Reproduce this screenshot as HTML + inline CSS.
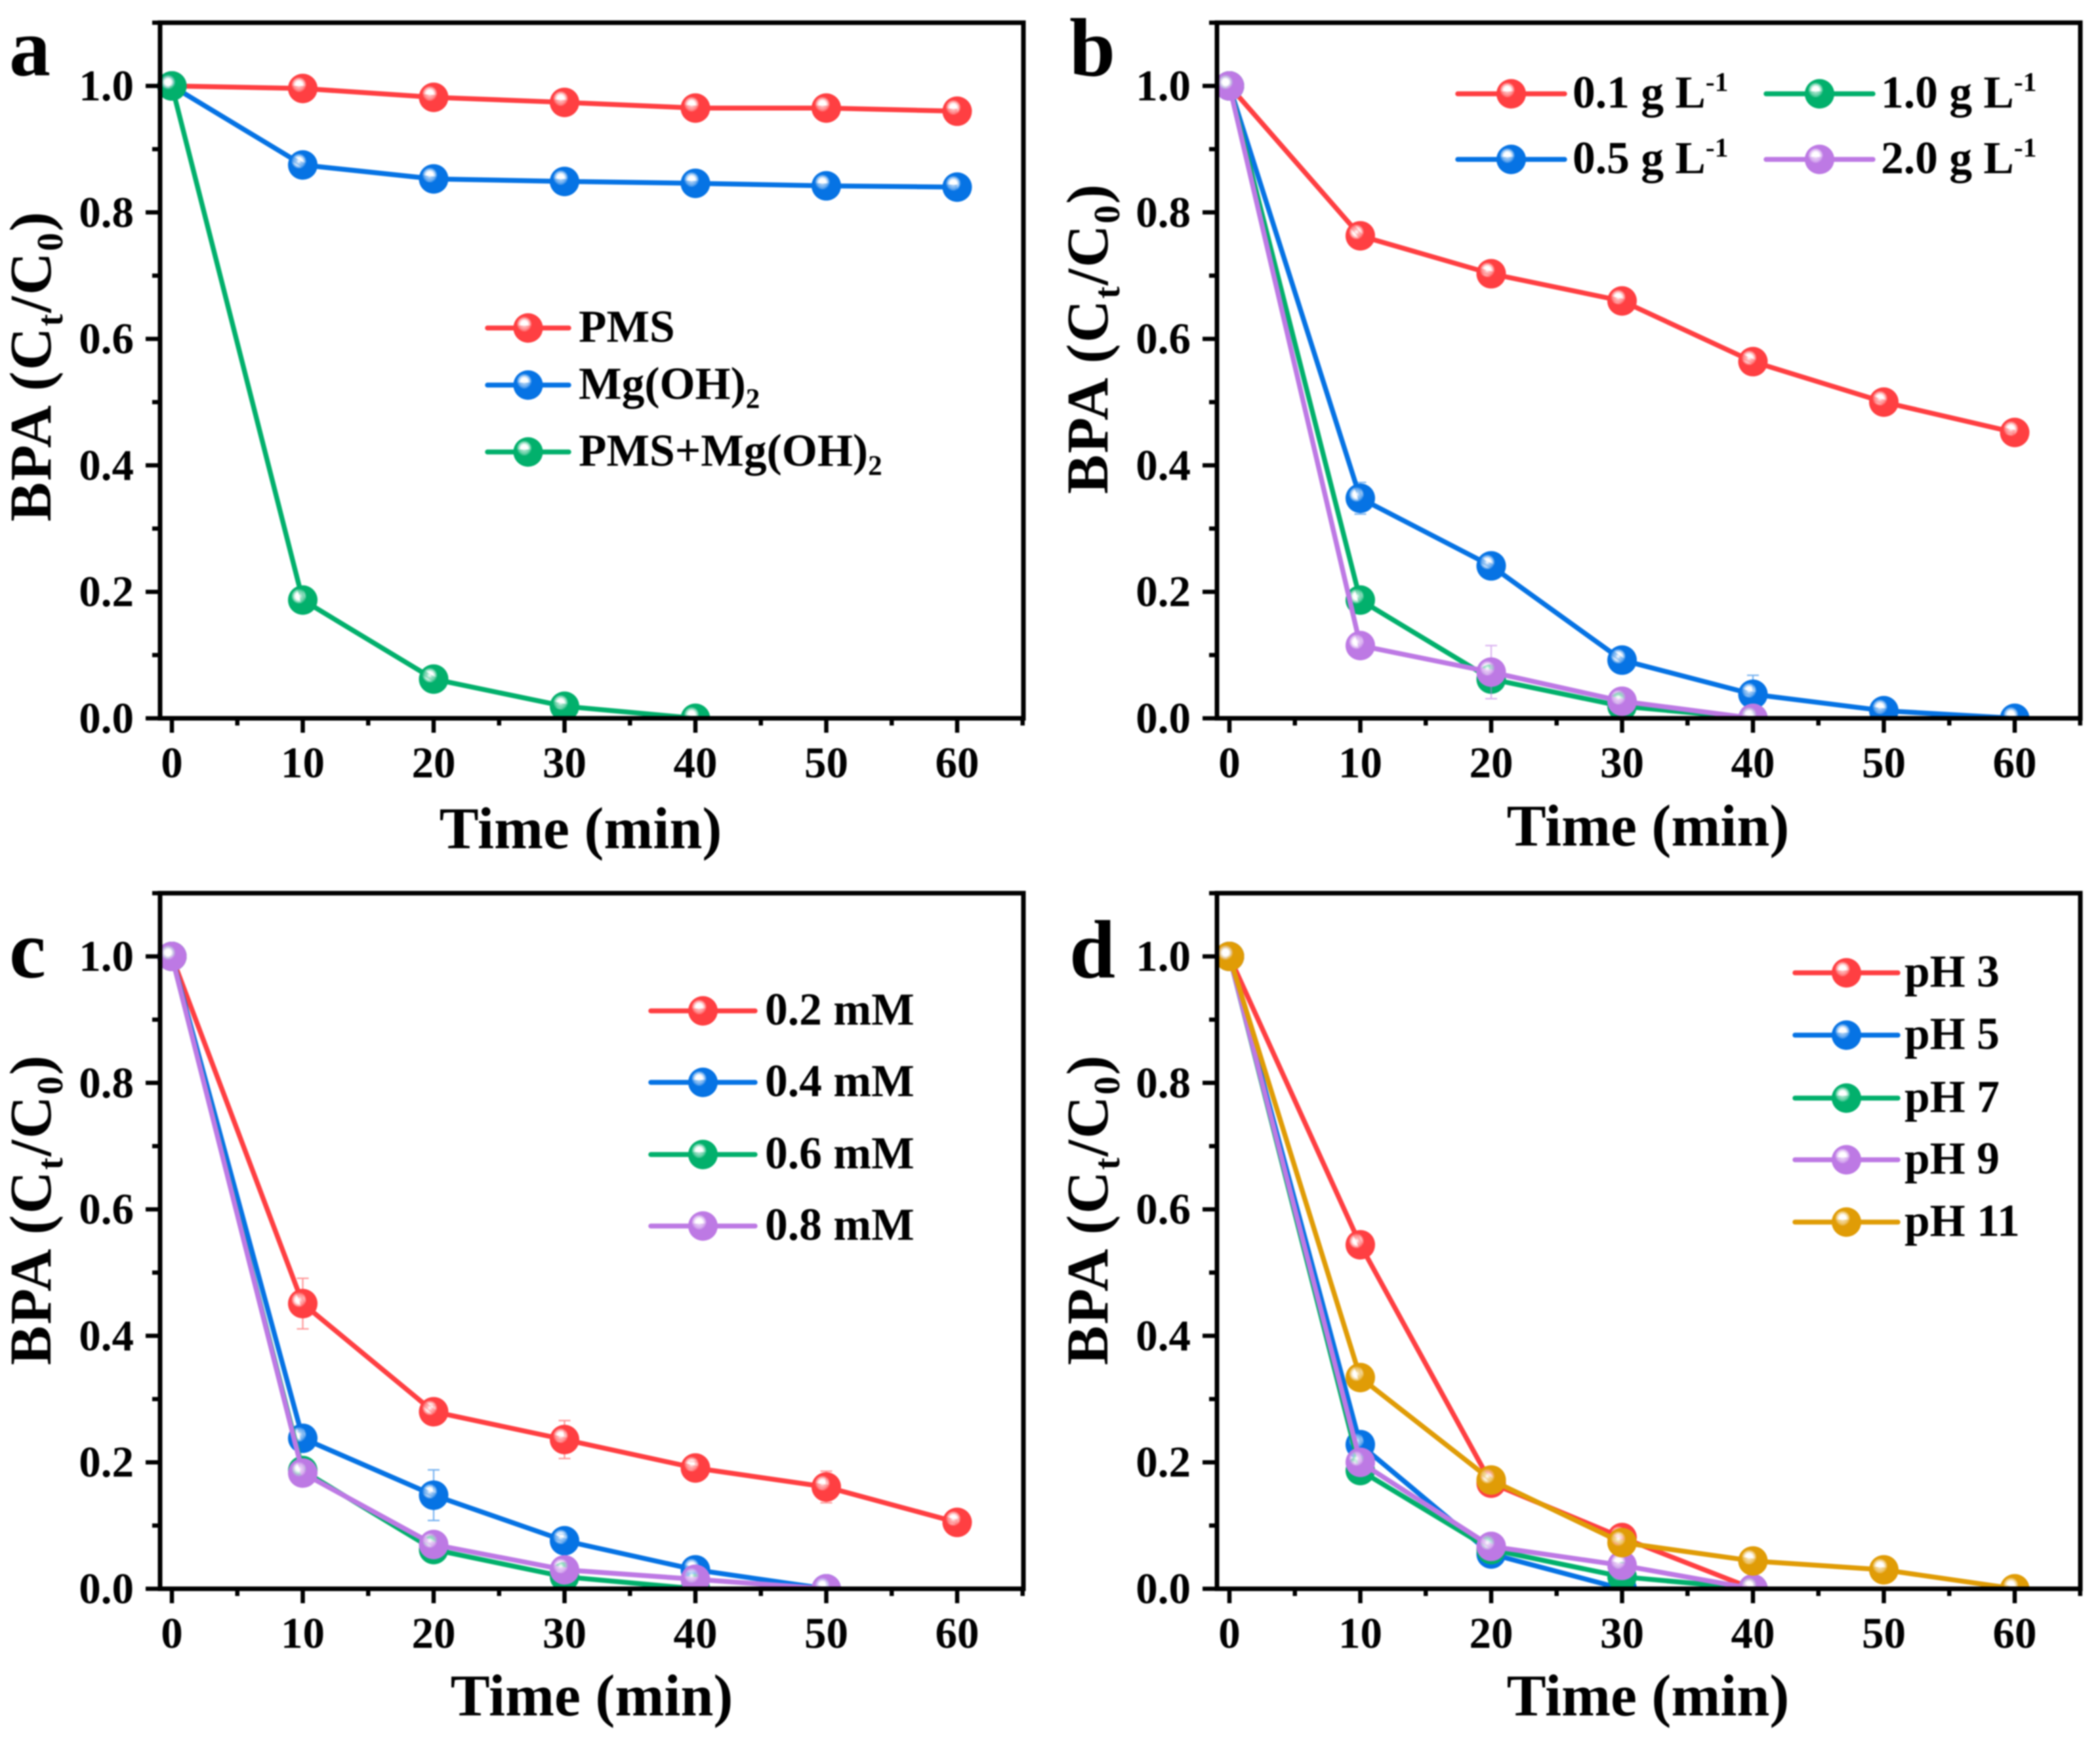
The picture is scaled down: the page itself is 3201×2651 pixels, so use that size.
<!DOCTYPE html>
<html lang="en">
<head>
<meta charset="utf-8">
<title>BPA degradation panels</title>
<style>
html,body{margin:0;padding:0;background:#fff;width:3201px;height:2651px;overflow:hidden}
svg{display:block;filter:blur(1.1px)}
text{font-family:"Liberation Serif",serif;font-weight:bold;fill:#000}
</style>
</head>
<body>
<svg id="fig" xmlns="http://www.w3.org/2000/svg" width="3201" height="2651" viewBox="0 0 3201 2651">
<rect x="0" y="0" width="3201" height="2651" fill="#fff"/>
<defs id="defs"></defs>
</svg>
<script>
const times = [0, 10, 20, 30, 40, 50, 60];
const xTickLabels = ['0', '10', '20', '30', '40', '50', '60'];
const yTickLabels = ['0.0', '0.2', '0.4', '0.6', '0.8', '1.0'];
const yMinorTicks = [0.1, 0.3, 0.5, 0.7, 0.9, 1.1];
const xMinorTicks = [5, 15, 25, 35, 45, 55, 65];

const aPms = [1, 0.996, 0.982, 0.974, 0.965, 0.965, 0.96];
const aMg = [1, 0.875, 0.853, 0.849, 0.846, 0.842, 0.84];
const aBoth = [1, 0.187, 0.062, 0.019, 0];

const b01 = [1, 0.763, 0.703, 0.66, 0.564, 0.5, 0.452];
const b05 = [1, 0.348, 0.241, 0.092, 0.038, 0.012, 0];
const b05Err = [0, 0.025, 0, 0, 0.03, 0, 0];
const b10 = [1, 0.187, 0.062, 0.019, 0];
const b20 = [1, 0.115, 0.073, 0.027, 0];
const b20Err = [0, 0.02, 0.042, 0, 0];

const c02 = [1, 0.451, 0.28, 0.236, 0.191, 0.161, 0.105];
const c02Err = [0, 0.04, 0.01, 0.03, 0.01, 0.025, 0.005];
const c04 = [1, 0.238, 0.148, 0.076, 0.03, 0];
const c04Err = [0, 0.01, 0.04, 0.01, 0.005, 0.02];
const c06 = [1, 0.187, 0.062, 0.019, 0];
const c08 = [1, 0.183, 0.07, 0.03, 0.015, 0];

const dPh3 = [1, 0.544, 0.167, 0.081, 0];
const dPh5 = [1, 0.228, 0.055, 0];
const dPh7 = [1, 0.187, 0.062, 0.019, 0];
const dPh9 = [1, 0.2, 0.067, 0.037, 0];
const dPh11 = [1, 0.334, 0.172, 0.073, 0.044, 0.03, 0];

const RED = '#ff3f42', BLUE = '#0673e4', GREEN = '#02b06c', PURPLE = '#bd79e4', GOLD = '#e09c06';
const SVGNS = 'http://www.w3.org/2000/svg';
const svg = document.getElementById('fig');
const defs = document.getElementById('defs');

function node(tag, attrs, parent, name) {
  const el = document.createElementNS(SVGNS, tag);
  for (const k in attrs) el.setAttribute(k, attrs[k]);
  
  
  (parent || svg).appendChild(el);
  return el;
}

/* parts: [string, 'sub'|'sup'|undefined] */
function richText(attrs, parts, parent, name, size) {
  const t = node('text', Object.assign({'font-size': size}, attrs), parent, name);
  let shift = 0;
  parts.forEach(function (p, i) {
    const ts = node('tspan', {}, t, name + '-part-' + i);
    let target = 0, fs = size;
    if (p[1] === 'sub') { target = size * 0.2; fs = size * 0.62; }
    if (p[1] === 'sup') { target = -size * 0.37; fs = size * 0.6; }
    ts.setAttribute('font-size', fs);
    ts.setAttribute('dy', target - shift);
    shift = target;
    ts.textContent = p[0];
  });
  return t;
}

[[RED, 'red'], [BLUE, 'blue'], [GREEN, 'green'], [PURPLE, 'purple'], [GOLD, 'gold']].forEach(function (c) {
  const g = node('radialGradient', {id: 'ball-' + c[1], cx: '0.37', cy: '0.37', r: '0.36'}, defs, 'marker-gradient-' + c[1]);
  node('stop', {offset: '0', 'stop-color': '#fff', 'stop-opacity': '1'}, g, 'gradient-stop-highlight');
  node('stop', {offset: '0.3', 'stop-color': '#fff', 'stop-opacity': '0.55'}, g, 'gradient-stop-mid');
  node('stop', {offset: '0.72', 'stop-color': c[0]}, g, 'gradient-stop-color');
  node('stop', {offset: '1', 'stop-color': c[0]}, g, 'gradient-stop-edge');
});
const ballFill = {};
ballFill[RED] = 'url(#ball-red)';
ballFill[BLUE] = 'url(#ball-blue)';
ballFill[GREEN] = 'url(#ball-green)';
ballFill[PURPLE] = 'url(#ball-purple)';
ballFill[GOLD] = 'url(#ball-gold)';

function marker(x, y, color, parent, name) {
  node('circle', {cx: x, cy: y, r: 22.5, fill: ballFill[color]}, parent, name);
}

function panel(o) {
  const g = node('g', {}, svg, 'panel-' + o.id);
  const xScale = function (v) { return o.x0 + v * 19.95; };
  const yScale = function (v) { return o.y0 - v * 964; };
  const top = yScale(1.1);

  const clipId = 'clip-' + o.id;
  const cp = node('clipPath', {id: clipId}, defs, 'plot-clip-' + o.id);
  node('rect', {x: o.left - 30, y: top, width: o.right - o.left + 60, height: o.y0 - top}, cp, 'plot-clip-rect');

  const plot = node('g', {'clip-path': 'url(#' + clipId + ')'}, g, 'plot-area-' + o.id);
  o.series.forEach(function (s) {
    const sg = node('g', {}, plot, 'series-' + s.key);
    const pts = s.values.map(function (v, i) { return xScale(times[i]) + ',' + yScale(v); }).join(' ');
    node('polyline', {points: pts, fill: 'none', stroke: s.color, 'stroke-width': 7.5, 'stroke-linejoin': 'round'}, sg, 'line-' + s.key);
    if (s.err) {
      s.err.forEach(function (e, i) {
        if (!e) return;
        const x = xScale(times[i]), y = yScale(s.values[i]), d = e * 964;
        const attrs = {stroke: s.color, 'stroke-width': 2.2, 'stroke-opacity': 0.55, fill: 'none',
          d: 'M' + x + ' ' + (y - d) + 'V' + (y + d) + 'M' + (x - 9) + ' ' + (y - d) + 'h18M' + (x - 9) + ' ' + (y + d) + 'h18'};
        node('path', attrs, sg, 'error-bar-' + s.key);
      });
    }
    s.values.forEach(function (v, i) {
      marker(xScale(times[i]), yScale(v), s.color, sg, 'point-' + s.key + '-t' + times[i]);
    });
  });

  /* frame */
  node('rect', {x: o.left, y: top, width: o.right - o.left, height: o.y0 - top, fill: 'none', stroke: '#000', 'stroke-width': 7}, g, 'plot-frame-' + o.id);

  /* ticks */
  const axes = node('g', {stroke: '#000', 'stroke-width': 6.5}, g, 'axes-' + o.id);
  yTickLabels.forEach(function (lab) {
    const y = yScale(parseFloat(lab));
    node('line', {x1: o.left - 22, x2: o.left, y1: y, y2: y}, axes, 'y-tick-' + lab);
    const t = node('text', {x: o.left - 40, y: y + 22, 'text-anchor': 'end', 'font-size': 67, stroke: 'none'}, g, 'y-tick-label-' + lab);
    t.textContent = lab;
  });
  yMinorTicks.forEach(function (v) {
    const y = yScale(v);
    node('line', {x1: o.left - 12, x2: o.left, y1: y, y2: y}, axes, 'y-minor-tick');
  });
  xTickLabels.forEach(function (lab) {
    const x = xScale(parseFloat(lab));
    node('line', {x1: x, x2: x, y1: o.y0, y2: o.y0 + 22}, axes, 'x-tick-' + lab);
    const t = node('text', {x: x, y: o.y0 + 90, 'text-anchor': 'middle', 'font-size': 67, stroke: 'none'}, g, 'x-tick-label-' + lab);
    t.textContent = lab;
  });
  xMinorTicks.forEach(function (v) {
    const x = xScale(v);
    node('line', {x1: x, x2: x, y1: o.y0, y2: o.y0 + 11}, axes, 'x-minor-tick');
  });

  /* titles */
  const xt = node('text', {x: o.xTitleX, y: o.xTitleY, 'text-anchor': 'middle', 'font-size': 90}, g, 'x-axis-title-' + o.id);
  xt.textContent = 'Time (min)';
  richText({x: 0, y: 0, 'text-anchor': 'middle', 'letter-spacing': 2, transform: 'translate(' + o.yTitleX + ',' + o.yTitleY + ') rotate(-90)'},
    [['BPA (C'], ['t', 'sub'], ['/C'], ['0', 'sub'], [')']], g, 'y-axis-title-' + o.id, 90);

  const pl = node('text', {x: o.letterX, y: o.letterY, 'font-size': 126}, g, 'panel-label-' + o.id);
  pl.textContent = o.id;

  /* legend */
  const lg = node('g', {}, g, 'legend-' + o.id);
  o.legend.forEach(function (e) {
    const eg = node('g', {}, lg, 'legend-entry-' + e.key);
    node('line', {x1: e.x1, x2: e.x1 + e.len, y1: e.y, y2: e.y, stroke: e.color, 'stroke-width': 7.5, 'stroke-linecap': 'round'}, eg, 'legend-line-' + e.key);
    marker(e.x1 + e.len / 2, e.y, e.color, eg, 'legend-marker-' + e.key);
    richText({x: e.tx, y: e.y + 21}, e.parts, eg, 'legend-label-' + e.key, 69.5);
  });
}

const aLegend = [
  {key: 'pms', color: RED, x1: 743, len: 124, tx: 882, y: 500, parts: [['PMS']]},
  {key: 'mg-oh2', color: BLUE, x1: 743, len: 124, tx: 882, y: 587, parts: [['Mg(OH)'], ['2', 'sub']]},
  {key: 'pms-mg-oh2', color: GREEN, x1: 743, len: 124, tx: 882, y: 689, parts: [['PMS+Mg(OH)'], ['2', 'sub']]}
];
panel({id: 'a', left: 244, right: 1560, x0: 262, y0: 1095, xTitleX: 885, xTitleY: 1293, yTitleX: 77, yTitleY: 558, letterX: 14, letterY: 115,
  series: [
    {key: 'pms', color: RED, values: aPms},
    {key: 'mg-oh2', color: BLUE, values: aMg},
    {key: 'pms-mg-oh2', color: GREEN, values: aBoth}
  ], legend: aLegend});

const bLegend = [
  {key: '0-1-g-l', color: RED, x1: 2222, len: 163, tx: 2397, y: 143, parts: [['0.1 g L'], ['-1', 'sup']]},
  {key: '0-5-g-l', color: BLUE, x1: 2222, len: 163, tx: 2397, y: 243, parts: [['0.5 g L'], ['-1', 'sup']]},
  {key: '1-0-g-l', color: GREEN, x1: 2692, len: 163, tx: 2867, y: 143, parts: [['1.0 g L'], ['-1', 'sup']]},
  {key: '2-0-g-l', color: PURPLE, x1: 2692, len: 163, tx: 2867, y: 243, parts: [['2.0 g L'], ['-1', 'sup']]}
];
panel({id: 'b', left: 1855, right: 3171, x0: 1874, y0: 1095, xTitleX: 2512, xTitleY: 1289, yTitleX: 1688, yTitleY: 516, letterX: 1630, letterY: 115,
  series: [
    {key: '0-1-g-l', color: RED, values: b01},
    {key: '0-5-g-l', color: BLUE, values: b05, err: b05Err},
    {key: '1-0-g-l', color: GREEN, values: b10},
    {key: '2-0-g-l', color: PURPLE, values: b20, err: b20Err}
  ], legend: bLegend});

const cLegend = [
  {key: '0-2-mm', color: RED, x1: 992, len: 159, tx: 1166, y: 1541, parts: [['0.2 mM']]},
  {key: '0-4-mm', color: BLUE, x1: 992, len: 159, tx: 1166, y: 1650, parts: [['0.4 mM']]},
  {key: '0-6-mm', color: GREEN, x1: 992, len: 159, tx: 1166, y: 1760, parts: [['0.6 mM']]},
  {key: '0-8-mm', color: PURPLE, x1: 992, len: 159, tx: 1166, y: 1869, parts: [['0.8 mM']]}
];
panel({id: 'c', left: 244, right: 1560, x0: 262, y0: 2422, xTitleX: 902, xTitleY: 2615, yTitleX: 77, yTitleY: 1844, letterX: 14, letterY: 1490,
  series: [
    {key: '0-2-mm', color: RED, values: c02, err: c02Err},
    {key: '0-4-mm', color: BLUE, values: c04, err: c04Err},
    {key: '0-6-mm', color: GREEN, values: c06},
    {key: '0-8-mm', color: PURPLE, values: c08}
  ], legend: cLegend});

const dLegend = [
  {key: 'ph-3', color: RED, x1: 2736, len: 157, tx: 2903, y: 1483, parts: [['pH 3']]},
  {key: 'ph-5', color: BLUE, x1: 2736, len: 157, tx: 2903, y: 1578, parts: [['pH 5']]},
  {key: 'ph-7', color: GREEN, x1: 2736, len: 157, tx: 2903, y: 1674, parts: [['pH 7']]},
  {key: 'ph-9', color: PURPLE, x1: 2736, len: 157, tx: 2903, y: 1768, parts: [['pH 9']]},
  {key: 'ph-11', color: GOLD, x1: 2736, len: 157, tx: 2903, y: 1863, parts: [['pH 11']]}
];
panel({id: 'd', left: 1855, right: 3171, x0: 1874, y0: 2422, xTitleX: 2512, xTitleY: 2615, yTitleX: 1688, yTitleY: 1844, letterX: 1630, letterY: 1490,
  series: [
    {key: 'ph-3', color: RED, values: dPh3},
    {key: 'ph-5', color: BLUE, values: dPh5},
    {key: 'ph-7', color: GREEN, values: dPh7},
    {key: 'ph-9', color: PURPLE, values: dPh9},
    {key: 'ph-11', color: GOLD, values: dPh11}
  ], legend: dLegend});
</script>
</body>
</html>
